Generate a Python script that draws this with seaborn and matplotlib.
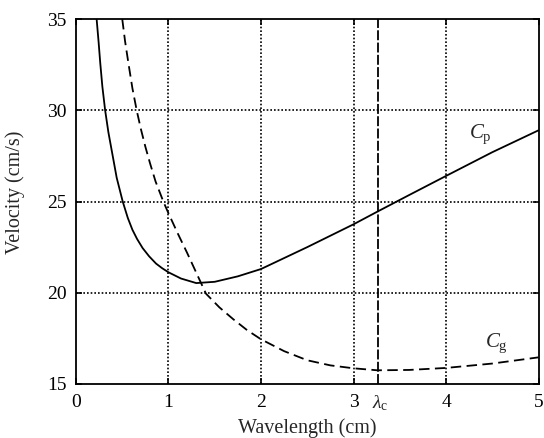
import matplotlib
matplotlib.use("Agg")
import matplotlib.pyplot as plt
import matplotlib.transforms as mtransforms
import seaborn as sns
import pandas as pd

# Phase velocity C_p
cp_wavelength = [0.223, 0.245, 0.262, 0.285, 0.315, 0.35, 0.386, 0.44, 0.505, 0.56,
                 0.61, 0.66, 0.72, 0.79, 0.865, 0.93, 1.0, 1.135, 1.3, 1.5, 1.75,
                 2.0, 2.5, 3.0, 3.26, 3.6, 4.0, 4.5, 5.0]
cp_velocity = [35.0, 33.7, 32.6, 31.3, 30.0, 28.8, 27.8, 26.3, 25.0, 24.1,
               23.45, 22.95, 22.45, 22.0, 21.6, 21.35, 21.12, 20.78, 20.53, 20.6, 20.9,
               21.3, 22.5, 23.75, 24.45, 25.35, 26.4, 27.7, 28.9]

# Group velocity C_g
cg_wavelength = [0.50, 0.53, 0.566, 0.61, 0.656, 0.70, 0.75, 0.80, 0.86, 0.944, 1.0,
                 1.1, 1.2, 1.3, 1.405, 1.55, 1.7, 1.85, 2.0, 2.25, 2.5, 2.75, 3.0,
                 3.26, 3.6, 4.0, 4.5, 5.0]
cg_velocity = [35.0, 33.8, 32.6, 31.2, 30.0, 29.0, 28.0, 27.1, 26.1, 25.0, 24.35,
               23.25, 22.2, 21.1, 19.95, 19.2, 18.55, 17.95, 17.45, 16.8, 16.3, 16.02,
               15.86, 15.75, 15.77, 15.88, 16.12, 16.46]

lambda_c = 3.26
x_ticks = [0, 1, 2, 3, 4, 5]
y_ticks = [15, 20, 25, 30, 35]

sns.set_style("ticks")
plt.rcParams['font.family'] = ['Liberation Serif', 'DejaVu Serif']
plt.rcParams['mathtext.fontset'] = 'custom'
plt.rcParams['mathtext.rm'] = 'Liberation Serif'
plt.rcParams['mathtext.it'] = 'Liberation Serif:italic'

fig = plt.figure(figsize=(5.44, 4.38), dpi=100)
ax = fig.add_axes([0.1397, 0.1233, 0.8502, 0.8333])

cp_df = pd.DataFrame({"wavelength": cp_wavelength, "velocity": cp_velocity})
cg_df = pd.DataFrame({"wavelength": cg_wavelength, "velocity": cg_velocity})

sns.lineplot(data=cp_df, x="wavelength", y="velocity", ax=ax, color="black",
             lw=1.3, estimator=None, sort=False, zorder=3)
sns.lineplot(data=cg_df, x="wavelength", y="velocity", ax=ax, color="black",
             lw=1.3, estimator=None, sort=False, zorder=3,
             linestyle=(0, (5.8, 3.0)))

ax.axvline(lambda_c, color="black", lw=1.3, linestyle=(0, (5.5, 1.3)), zorder=3)

ax.set_xlim(0, 5)
ax.set_ylim(15, 35)
ax.set_xticks(x_ticks)
ax.set_yticks(y_ticks)
ax.tick_params(direction="in", top=True, right=True, length=4, width=1.2,
               labelsize=14, pad=7, colors="black")

for v in x_ticks[1:-1]:
    ax.axvline(v, color="black", lw=1.2, linestyle=(0, (1, 1.2)), zorder=1)
for v in y_ticks[1:-1]:
    ax.axhline(v, color="black", lw=1.2, linestyle=(0, (1, 1.2)), zorder=1)

for s in ax.spines.values():
    s.set_linewidth(1.3)
    s.set_color("black")

ax.set_xlabel("Wavelength (cm)", fontsize=14.5)
ax.set_ylabel("Velocity (cm/s)", fontsize=14.5)
ax.xaxis.set_label_coords(0.5, -0.094)
ax.yaxis.set_label_coords(-0.11, 0.526)

trans = mtransforms.blended_transform_factory(ax.transData, ax.transAxes)
ax.text(lambda_c + 0.03, -0.025, r"$\lambda_\mathrm{c}$", transform=trans,
        ha="center", va="top", fontsize=14)

ax.text(4.25, 28.5, r"$C_\mathrm{p}$", ha="left", va="baseline", fontsize=15)
ax.text(4.42, 17.0, r"$C_\mathrm{g}$", ha="left", va="baseline", fontsize=15)

fig.savefig("out.png", dpi=100)
